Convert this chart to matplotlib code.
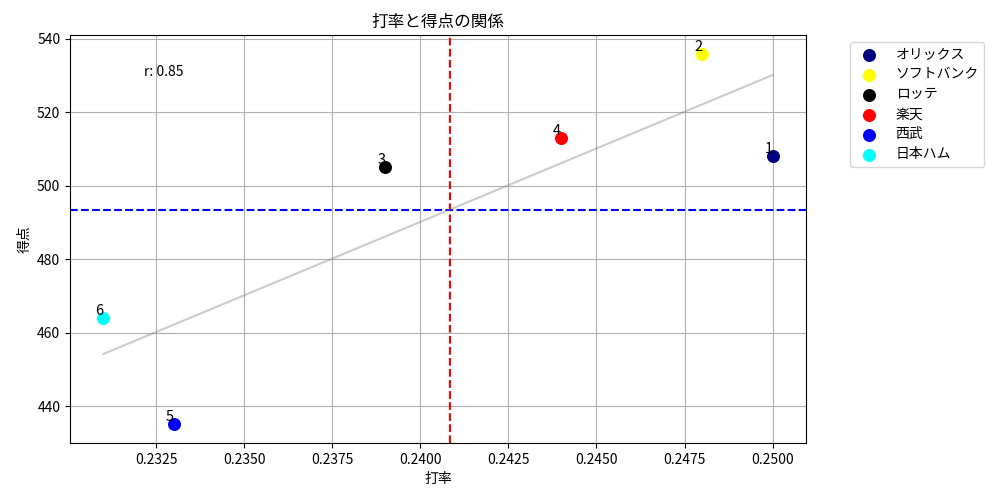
import numpy as np
import matplotlib
matplotlib.use('Agg')
import matplotlib.pyplot as plt

plt.rcParams['font.family'] = ['Noto Sans CJK JP', 'DejaVu Sans']

# データ
teams = ['オリックス', 'ソフトバンク', 'ロッテ', '楽天', '西武', '日本ハム']
ranks = ['1', '2', '3', '4', '5', '6']
batting_avg = [0.250, 0.248, 0.239, 0.244, 0.233, 0.231]
runs = [508, 536, 505, 513, 435, 464]
colors = ['navy', 'yellow', 'black', 'red', 'blue', 'cyan']

fig, ax = plt.subplots(figsize=(10, 5), dpi=100)
fig.subplots_adjust(left=0.07, right=0.806, top=0.93, bottom=0.114)

for t, x, y, c, rk in zip(teams, batting_avg, runs, colors, ranks):
    ax.scatter(x, y, s=70, color=c, label=t, zorder=3)
    ax.text(x, y, rk, ha='right', va='bottom', fontsize=10.5, zorder=4)

# 平均線
ax.axvline(np.mean(batting_avg), color='red', linestyle='--', zorder=2)
ax.axhline(np.mean(runs), color='blue', linestyle='--', zorder=2)

# 回帰直線
a, b = np.polyfit(batting_avg, runs, 1)
xs = np.array([min(batting_avg), max(batting_avg)])
ax.plot(xs, a * xs + b, color='gray', alpha=0.4, zorder=2)

r = np.corrcoef(batting_avg, runs)[0, 1]
ax.text(0.1, 0.91, f'r: {r:.2f}', transform=ax.transAxes, fontsize=10, va='center')

ax.set_title('打率と得点の関係')
ax.set_xlabel('打率')
ax.set_ylabel('得点')
ax.grid(True, zorder=0)
ax.set_axisbelow(True)
ax.legend(loc='upper left', bbox_to_anchor=(1.05, 1), handletextpad=0.9,
          labelspacing=0.43)

plt.savefig('out.png', dpi=100)
